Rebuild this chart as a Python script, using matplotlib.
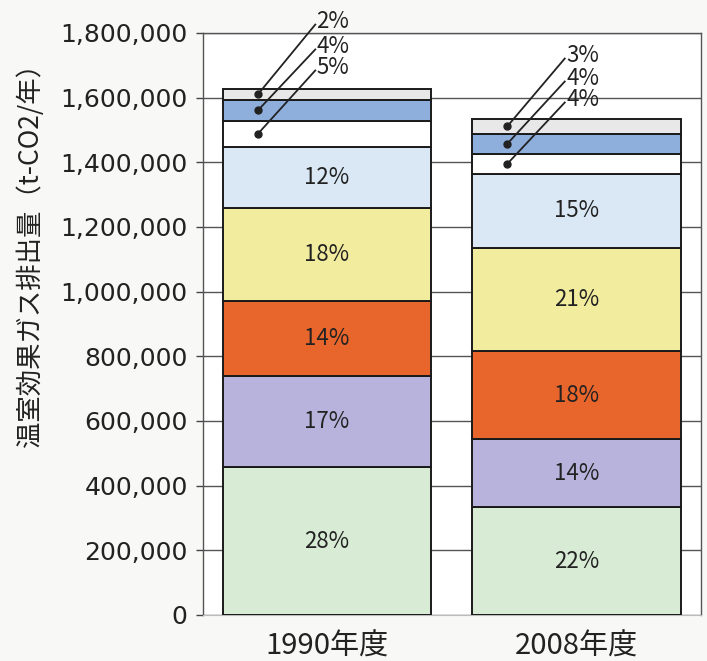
import matplotlib.pyplot as plt
import numpy as np

plt.rcParams['font.family'] = ['Noto Sans CJK JP', 'DejaVu Sans']

years = ["1990年度", "2008年度"]

# emissions by sector, t-CO2/year, bottom of the stack first
sectors = ["産業", "運輸", "業務", "家庭", "エネルギー転換", "廃棄物", "工業プロセス", "その他"]
y1990 = [457000, 282000, 232000, 288000, 189000, 80000, 65000, 34000]
y2008 = [333000, 211000, 272000, 320000, 229000, 61000, 63000, 45000]

colors = ["#d8ebd5", "#b7b3dc", "#e8652c", "#f2ed9e", "#d9e8f4",
          "#ffffff", "#8eaedc", "#e8e8e8"]

yticks = np.arange(0, 1800001, 200000)

fig = plt.figure(figsize=(7.07, 6.61), dpi=100)
fig.patch.set_facecolor("#f8f8f6")
ax = fig.add_axes([0.2871, 0.0696, 0.7044, 0.8805])
ax.set_facecolor("white")

data = np.array([y1990, y2008])
x = np.arange(len(years))
width = 0.834
bottoms = np.zeros(len(years))
tops = []
for i in range(len(sectors)):
    ax.bar(x, data[:, i], width, bottom=bottoms, color=colors[i],
           edgecolor="#1a1a1a", linewidth=1.4, zorder=3)
    tops.append(bottoms + data[:, i])
    bottoms = bottoms + data[:, i]
tops = np.array(tops)
totals = data.sum(axis=1)

# percentage labels inside the larger segments
for j in range(len(years)):
    for i in range(5):
        mid = tops[i, j] - data[j, i] / 2
        pct = round(data[j, i] / totals[j] * 100)
        ax.text(x[j], mid, f"{pct}%", ha="center", va="center",
                fontsize=16, color="#222222", zorder=4)

# leader lines for the three thin segments at the top
text_y = {0: [1834000, 1757000, 1692000], 1: [1729000, 1658000, 1593000]}
for j in range(len(years)):
    dot_x = x[j] - width / 2 + 0.14
    tx = x[j] - width / 2 + 0.37
    for k, i in enumerate([7, 6, 5]):
        mid = tops[i, j] - data[j, i] / 2
        pct = round(data[j, i] / totals[j] * 100)
        ty = text_y[j][k]
        ax.plot([dot_x], [mid], "o", color="#222222", ms=5, zorder=5,
                clip_on=False)
        ax.plot([dot_x, tx], [mid, ty - 8000], color="#222222", lw=1.3,
                zorder=5, clip_on=False)
        ax.text(tx + 0.005, ty, f"{pct}%", ha="left", va="center",
                fontsize=16, color="#222222", zorder=5, clip_on=False)

ax.set_xlim(-0.497, 1.499)
ax.set_ylim(0, 1800000)
ax.set_yticks(yticks)
ax.set_yticklabels([f"{v:,}" for v in yticks], fontsize=18,
                   family="DejaVu Sans", color="#222222")
ax.set_xticks(x)
ax.set_xticklabels(years, fontsize=21, color="#222222")
ax.tick_params(axis="x", length=0, pad=12)
ax.tick_params(axis="y", length=5, width=1, color="#444444", pad=6)

ax.yaxis.grid(True, color="#555555", linewidth=1.0, zorder=0)
ax.set_axisbelow(True)
for side in ["left", "right", "top"]:
    ax.spines[side].set_color("#555555")
    ax.spines[side].set_linewidth(1.0)
ax.spines["bottom"].set_color("#bbbbbb")

ax.set_ylabel("温室効果ガス排出量（t-CO2/年）", fontsize=19, color="#222222")
ax.yaxis.set_label_coords(-0.32, 0.63)

fig.savefig("out.png", dpi=100, facecolor=fig.get_facecolor())
